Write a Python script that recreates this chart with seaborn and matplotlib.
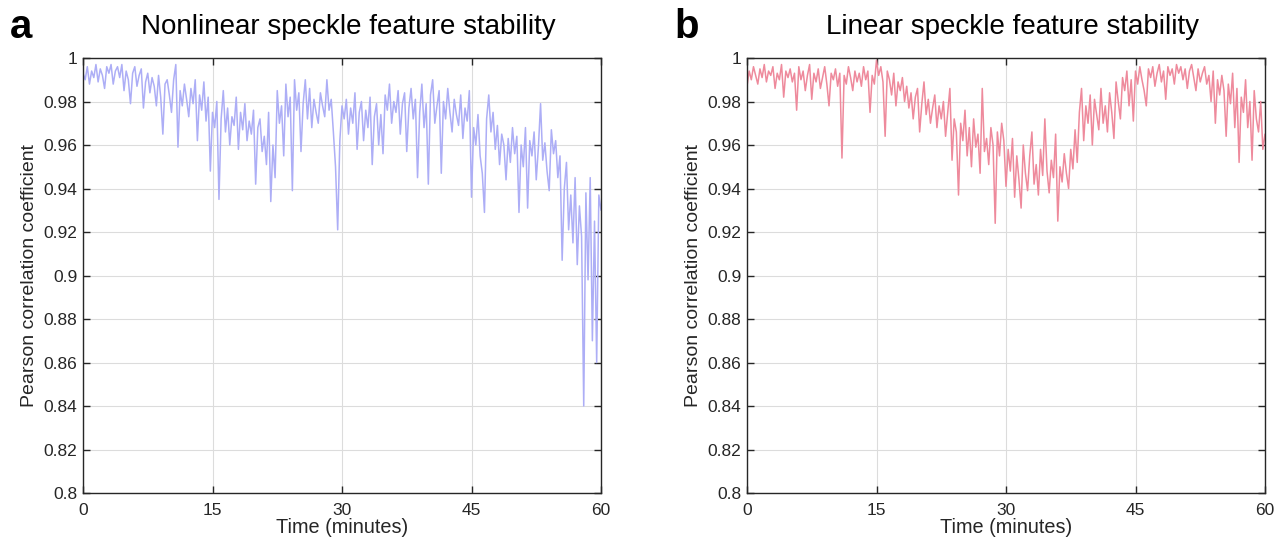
"""Estabilidad de las caracteristicas de speckle: lineal vs no lineal."""

import matplotlib.pyplot as plt
import numpy as np
import pandas as pd
import seaborn as sns

# Coeficiente de Pearson, una muestra cada 0.25 min (0 a 60 min)
nonlinear_corr = [
    0.993, 0.990, 0.996, 0.988, 0.994, 0.991, 0.997, 0.989, 0.995, 0.992, 0.986, 0.996, 0.993, 0.997, 0.988, 0.994, 0.996, 0.991, 0.997, 0.985,
    0.994, 0.990, 0.979, 0.993, 0.996, 0.987, 0.992, 0.995, 0.977, 0.989, 0.993, 0.984, 0.991, 0.987, 0.978, 0.992, 0.982, 0.965, 0.988, 0.990,
    0.983, 0.975, 0.990, 0.997, 0.959, 0.985, 0.978, 0.988, 0.981, 0.973, 0.986, 0.979, 0.990, 0.962, 0.983, 0.976, 0.989, 0.971, 0.982, 0.948,
    0.975, 0.968, 0.980, 0.935, 0.972, 0.985, 0.966, 0.977, 0.960, 0.973, 0.969, 0.982, 0.958, 0.975, 0.967, 0.979, 0.962, 0.971, 0.965, 0.976,
    0.942, 0.968, 0.972, 0.957, 0.964, 0.951, 0.975, 0.934, 0.960, 0.945, 0.985, 0.970, 0.978, 0.955, 0.988, 0.973, 0.982, 0.939, 0.990, 0.976,
    0.984, 0.957, 0.979, 0.990, 0.972, 0.986, 0.968, 0.981, 0.975, 0.970, 0.984, 0.978, 0.973, 0.990, 0.976, 0.981, 0.966, 0.950, 0.921, 0.962,
    0.978, 0.972, 0.981, 0.965, 0.977, 0.970, 0.984, 0.958, 0.975, 0.980, 0.962, 0.976, 0.968, 0.982, 0.951, 0.973, 0.979, 0.960, 0.974, 0.956,
    0.983, 0.976, 0.988, 0.970, 0.980, 0.975, 0.985, 0.965, 0.979, 0.984, 0.957, 0.977, 0.986, 0.972, 0.981, 0.945, 0.975, 0.988, 0.968, 0.979,
    0.942, 0.983, 0.990, 0.970, 0.978, 0.985, 0.947, 0.980, 0.972, 0.986, 0.975, 0.966, 0.981, 0.974, 0.969, 0.983, 0.963, 0.977, 0.971, 0.985,
    0.936, 0.968, 0.960, 0.974, 0.955, 0.947, 0.929, 0.972, 0.983, 0.966, 0.975, 0.958, 0.969, 0.951, 0.965, 0.960, 0.944, 0.963, 0.952, 0.968,
    0.956, 0.964, 0.929, 0.960, 0.950, 0.968, 0.931, 0.962, 0.955, 0.966, 0.944, 0.959, 0.979, 0.953, 0.961, 0.948, 0.939, 0.967, 0.956, 0.962,
    0.945, 0.955, 0.907, 0.940, 0.952, 0.921, 0.937, 0.915, 0.945, 0.905, 0.932, 0.918, 0.840, 0.938, 0.898, 0.945, 0.870, 0.925, 0.860, 0.937,
    0.930,
]

linear_corr = [
    0.987, 0.994, 0.990, 0.996, 0.992, 0.988, 0.995, 0.991, 0.997, 0.989, 0.994, 0.992, 0.996, 0.986, 0.993, 0.990, 0.997, 0.982, 0.994, 0.991,
    0.995, 0.989, 0.993, 0.976, 0.996, 0.990, 0.994, 0.985, 0.992, 0.997, 0.981, 0.993, 0.989, 0.995, 0.986, 0.991, 0.996, 0.988, 0.978, 0.993,
    0.990, 0.995, 0.987, 0.993, 0.954, 0.992, 0.988, 0.996, 0.991, 0.985, 0.994, 0.989, 0.993, 0.987, 0.996, 0.990, 0.994, 0.975, 0.992, 0.988,
    0.999, 0.992, 0.996, 0.989, 0.964, 0.994, 0.990, 0.983, 0.993, 0.978, 0.989, 0.985, 0.991, 0.980, 0.987, 0.977, 0.984, 0.972, 0.982, 0.986,
    0.966, 0.979, 0.989, 0.974, 0.981, 0.970, 0.977, 0.983, 0.968, 0.978, 0.972, 0.980, 0.964, 0.975, 0.986, 0.953, 0.972, 0.966, 0.937, 0.970,
    0.962, 0.976, 0.955, 0.968, 0.950, 0.972, 0.959, 0.965, 0.947, 0.986, 0.957, 0.963, 0.951, 0.968, 0.960, 0.924, 0.966, 0.955, 0.970, 0.962,
    0.941, 0.958, 0.948, 0.963, 0.936, 0.955, 0.944, 0.931, 0.960, 0.947, 0.939, 0.955, 0.966, 0.942, 0.951, 0.937, 0.958, 0.946, 0.972, 0.948,
    0.938, 0.953, 0.945, 0.965, 0.925, 0.950, 0.943, 0.956, 0.947, 0.940, 0.958, 0.949, 0.967, 0.952, 0.975, 0.986, 0.962, 0.978, 0.970, 0.983,
    0.960, 0.981, 0.974, 0.967, 0.986, 0.970, 0.978, 0.966, 0.984, 0.975, 0.963, 0.989, 0.980, 0.972, 0.991, 0.985, 0.994, 0.978, 0.990, 0.971,
    0.994, 0.988, 0.996, 0.990, 0.985, 0.978, 0.995, 0.991, 0.996, 0.987, 0.993, 0.997, 0.989, 0.994, 0.981, 0.996, 0.992, 0.995, 0.988, 0.997,
    0.993, 0.996, 0.990, 0.995, 0.986, 0.994, 0.997, 0.991, 0.985, 0.995, 0.989, 0.993, 0.996, 0.988, 0.992, 0.980, 0.994, 0.970, 0.990, 0.983,
    0.992, 0.985, 0.964, 0.988, 0.979, 0.993, 0.968, 0.986, 0.952, 0.982, 0.975, 0.990, 0.968, 0.980, 0.953, 0.985, 0.972, 0.966, 0.980, 0.958,
    0.965,
]

time_min = np.linspace(0, 60, len(nonlinear_corr))

panels = [
    ("a", "Nonlinear speckle feature stability", nonlinear_corr, "#adaef6"),
    ("b", "Linear speckle feature stability", linear_corr, "#ee8a9c"),
]

x_ticks = [0, 15, 30, 45, 60]
y_ticks = [0.8, 0.82, 0.84, 0.86, 0.88, 0.9, 0.92, 0.94, 0.96, 0.98, 1.0]

sns.set_theme(style="ticks")
plt.rcParams["font.family"] = ["Liberation Sans", "DejaVu Sans"]

fig = plt.figure(figsize=(12.88, 5.46), dpi=100)
ax_lefts = [83 / 1288, 747 / 1288]

for (letter, title, values, color), left in zip(panels, ax_lefts):
    ax = fig.add_axes([left, 53 / 546, 518 / 1288, 435 / 546])
    df = pd.DataFrame({"Time": time_min, "Pearson": values})
    sns.lineplot(data=df, x="Time", y="Pearson", ax=ax, color=color,
                 linewidth=1.1, estimator=None)

    ax.set_xlim(0, 60)
    ax.set_ylim(0.8, 1.0)
    ax.set_xticks(x_ticks)
    ax.set_yticks(y_ticks)
    ax.set_yticklabels([f"{v:g}" for v in y_ticks])
    ax.grid(True, color="#dcdcdc", linewidth=0.8)
    ax.set_axisbelow(True)
    for spine in ax.spines.values():
        spine.set_visible(True)
        spine.set_color("#262626")
        spine.set_linewidth(1.0)
    ax.tick_params(direction="in", length=5, width=1, top=True, right=True,
                   labelsize=12.5, colors="#262626")
    ax.tick_params(axis="x", pad=7)
    ax.tick_params(axis="y", pad=4)
    ax.set_xlabel("Time (minutes)", fontsize=14.3, color="#262626", labelpad=0)
    ax.set_ylabel("Pearson correlation coefficient", fontsize=14,
                  color="#262626", labelpad=4)
    ax.set_title(title, fontsize=20, pad=17, color="black", x=0.512)
    fig.text(left - 73 / 1288, 1 - 38 / 546, letter, fontsize=29,
             fontweight="bold", ha="left", va="baseline", color="black")

fig.savefig("out.png", dpi=100)
